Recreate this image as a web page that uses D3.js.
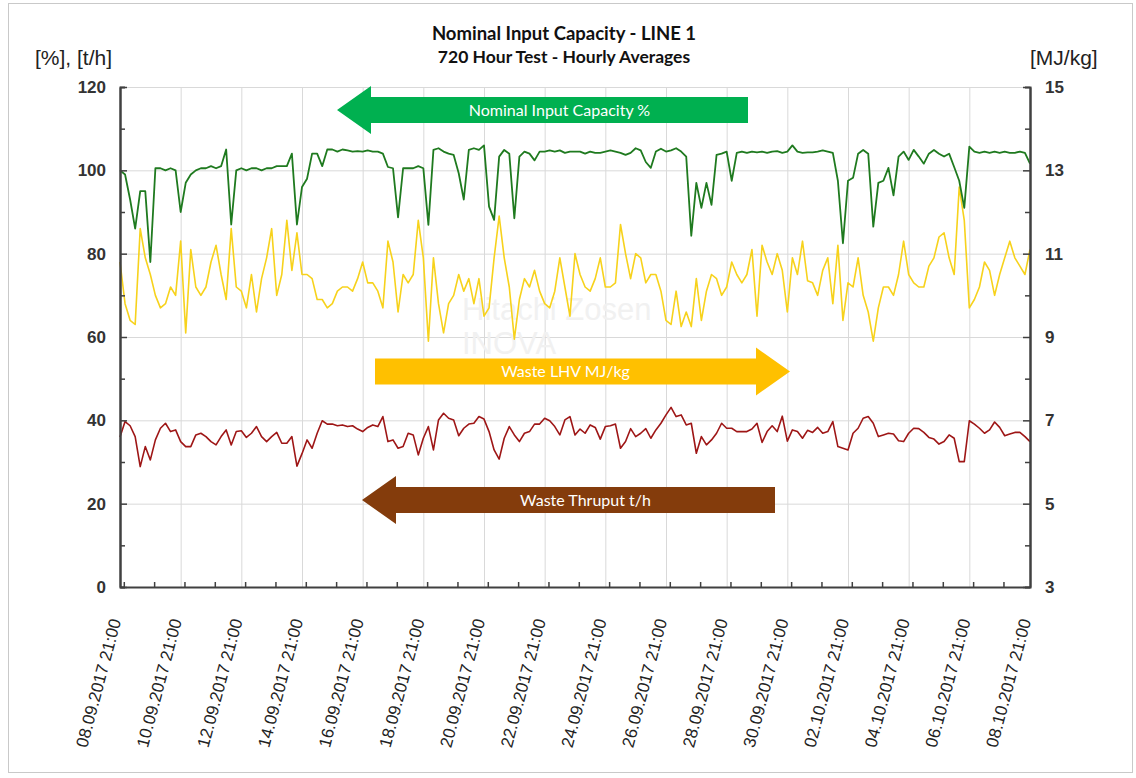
<!DOCTYPE html>
<html>
<head>
<meta charset="utf-8">
<script src="https://cdn.jsdelivr.net/npm/d3@7"></script>
<style>
  body { margin: 0; background: #fff; }
  svg { display: block; font-family: "Liberation Sans", Arial, sans-serif; }
</style>
</head>
<body>
<svg id="chart" width="1136" height="778"></svg>
<script>
// hourly test, sampled every 4 hours starting 08.09.2017 21:00
const startTime = Date.UTC(2017, 8, 8, 21);
const stepHours = 4;

// Nominal Input Capacity [%] (left axis)
const capacity = [
  100,99,93,86,95,95,78,100.5,100.5,100,100.5,100,90,97,99,100,100.5,100.5,101,100.5,
  101,105,87,100,100.5,100,100.5,100.5,100,100.5,100.5,101,101,101,104,87,96,98,104,104,
  101,105,105,104.5,105,104.8,104.5,104.6,104.5,104.8,104.5,104.5,104,100.8,100.5,88.7,100.5,100.5,100.5,101,
  100.5,86.9,104.9,105.3,104.5,104,103.7,99.3,93,104.9,105.3,104.9,106,91.3,88.1,103.3,104.9,104,88.5,103.3,
  104.5,104,102.4,104.5,104.5,104.8,104.5,104.8,104.2,104.5,104.5,104.5,104,104.5,104.2,104.2,104.5,104.8,104.5,104.2,
  103.7,104.2,105.3,104.8,102,100.6,104.5,105.2,104.5,104.8,105.3,104.5,103.3,84.3,97,91,97,91.7,103.7,104,
  104.5,97.5,104.2,104.5,104.2,104.5,104.3,104.5,104.2,104.5,104.6,104.2,104.5,106,104.5,104.2,104.3,104.3,104.5,104.8,
  104.5,104.2,97.5,82.5,97.5,98.2,104,104.9,104,86.5,97,97.5,100.6,94,103.3,104.5,102.5,104.9,103.3,101.6,
  104,104.9,104,103.3,104,100.8,97.5,91,105.7,104.5,104.2,104.5,104.2,104.5,104.2,104.5,104.2,104.2,104.5,104.2,
  101.6
];

// Waste LHV [MJ/kg] (right axis)
const lhv = [
  10.8,9.8,9.4,9.3,11.6,10.9,10.5,10.0,9.7,9.8,10.2,10.0,11.3,9.1,11.1,10.2,10.0,10.2,10.8,11.2,
  10.5,9.9,11.6,10.2,10.1,9.7,10.5,9.6,10.4,10.9,11.6,10.0,10.5,11.8,10.6,11.5,10.5,10.5,10.4,9.9,
  9.9,9.7,9.8,10.1,10.2,10.2,10.1,10.4,10.8,10.3,10.3,10.1,9.7,11.3,10.8,9.6,10.5,10.3,10.5,11.8,
  10.9,8.9,10.9,9.8,9.1,9.8,10.0,10.5,10.1,10.4,9.8,10.4,9.5,9.7,10.9,11.9,10.9,10.2,8.95,9.9,
  10.4,10.2,10.6,10.1,9.8,9.7,10.1,10.9,10.2,9.5,11.0,10.5,10.2,10.1,10.4,10.9,10.2,10.2,10.3,11.7,
  11.0,10.4,11.0,10.9,10.3,10.5,10.5,10.1,9.4,9.3,10.1,9.25,9.6,9.25,10.4,9.4,10.1,10.5,10.4,10.0,
  10.2,10.8,10.5,10.3,10.5,11.1,9.5,11.2,10.8,10.5,11.0,10.6,9.6,10.9,10.5,11.3,10.35,10.3,10.0,10.6,
  10.9,9.8,11.2,9.4,10.3,10.2,10.9,10.0,9.6,8.9,9.7,10.2,10.2,10.0,10.5,11.3,10.5,10.3,10.2,10.2,
  10.7,10.9,11.4,11.5,10.9,10.5,12.6,11.8,9.7,9.9,10.2,10.8,10.6,10.0,10.5,10.9,11.3,10.9,10.7,10.5,
  11.1
];

// Waste Thruput [t/h] (left axis)
const thruput = [
  36,39.7,38.7,36.1,28.9,33.7,30.5,35.3,38.1,39.3,37.3,37.7,34.9,33.7,33.7,36.5,36.9,36.1,34.9,34.1,
  36.1,37.7,34.1,37.3,37.5,35.9,36.9,38.5,36.1,34.9,36.1,37.1,34.5,34.5,36.1,29,32,35.3,33.3,36.9,
  39.9,39.1,39.1,38.7,38.9,38.5,38.7,37.9,37.3,38.3,38.9,38.5,40.9,34.9,35.3,33.3,33.7,36.9,36.5,31.7,
  35.7,38.5,32.9,40.1,41.7,40.5,40.1,36.3,38.1,39.1,39.3,40.9,40.3,37.3,32.9,30.7,35.7,38.5,36.5,34.9,
  36.9,37.3,39.1,39.1,40.5,39.9,38.5,36.5,40.1,40.9,36.5,37.9,36.9,38.9,38.3,35.5,38.5,38.7,39.1,33.3,
  34.9,38,36.1,36.9,38,35.7,37.7,39.3,41.3,43.1,40.9,41.3,38.9,39.3,32.1,36.1,34.1,35.3,36.9,39.3,
  38.1,38.1,37.3,37.3,37.3,37.9,39.3,34.7,37.3,38.7,37.3,41,35,37.7,37.3,35.7,37.6,37.1,38.3,36.9,
  37.3,39.7,33.7,33.3,32.9,36.9,38.1,40.5,40.9,39.3,36.1,36.5,36.9,36.7,35.1,34.9,36.9,38.1,38,37.1,
  35.9,35.5,34.3,34.9,36.5,35.7,30.1,30.1,39.9,39.1,38.1,36.9,37.7,39.6,38.3,36.3,36.7,37.1,37.1,36.1,
  34.9
];

const leftTicks = [0, 20, 40, 60, 80, 100, 120];
const rightTicks = [3, 5, 7, 9, 11, 13, 15];
const xTickLabels = [
  '08.09.2017 21:00', '10.09.2017 21:00', '12.09.2017 21:00', '14.09.2017 21:00',
  '16.09.2017 21:00', '18.09.2017 21:00', '20.09.2017 21:00', '22.09.2017 21:00',
  '24.09.2017 21:00', '26.09.2017 21:00', '28.09.2017 21:00', '30.09.2017 21:00',
  '02.10.2017 21:00', '04.10.2017 21:00', '06.10.2017 21:00', '08.10.2017 21:00'
];

const parseTick = d3.utcParse('%d.%m.%Y %H:%M');
const fmtTick = d3.utcFormat('%d.%m.%Y %H:%M');
const tickDates = xTickLabels.map(parseTick);
const timeAt = i => new Date(startTime + i * stepHours * 3600 * 1000);

const svg = d3.select('#chart');
const plot = { left: 120, right: 1030, top: 87, bottom: 587 };

const x = d3.scaleUtc()
  .domain([tickDates[0], tickDates[tickDates.length - 1]])
  .range([plot.left, plot.right]);
const yL = d3.scaleLinear().domain([0, 120]).range([plot.bottom, plot.top]);
const yR = d3.scaleLinear().domain([3, 15]).range([plot.bottom, plot.top]);

// outer frame
svg.append('rect')
  .attr('x', 8.5).attr('y', 3.5).attr('width', 1124).attr('height', 769)
  .attr('fill', 'none').attr('stroke', '#c9c9c9');

// horizontal grid
svg.append('g')
  .attr('transform', `translate(${plot.left},0)`)
  .call(d3.axisLeft(yL).tickValues(leftTicks).tickSize(-(plot.right - plot.left)).tickFormat(''))
  .call(g => g.select('.domain').remove())
  .call(g => g.selectAll('line').attr('stroke', '#d9d9d9'));

// vertical grid every 2 days
svg.append('g')
  .attr('transform', `translate(0,${plot.bottom})`)
  .call(d3.axisBottom(x).tickValues(tickDates).tickSize(-(plot.bottom - plot.top)).tickFormat(''))
  .call(g => g.select('.domain').remove())
  .call(g => g.selectAll('line').attr('stroke', '#d9d9d9'));

// watermark (very faint)
const wm = svg.append('g').attr('fill', '#f1f1f1').attr('font-size', 31);
wm.append('text').attr('x', 462).attr('y', 320).text('Hitachi Zosen');
wm.append('text').attr('x', 462).attr('y', 354).text('INOVA');

// series
const lineL = d3.line().x((d, i) => x(timeAt(i))).y(d => yL(d));
const lineR = d3.line().x((d, i) => x(timeAt(i))).y(d => yR(d));

svg.append('path').datum(lhv)
  .attr('fill', 'none').attr('stroke', '#f7d21c').attr('stroke-width', 1.6)
  .attr('stroke-linejoin', 'round').attr('d', lineR);
svg.append('path').datum(thruput)
  .attr('fill', 'none').attr('stroke', '#9e1616').attr('stroke-width', 1.6)
  .attr('stroke-linejoin', 'round').attr('d', lineL);
svg.append('path').datum(capacity)
  .attr('fill', 'none').attr('stroke', '#1f7a1f').attr('stroke-width', 1.8)
  .attr('stroke-linejoin', 'round').attr('d', lineL);

// axes
const axisColor = '#404040';
const styleAxis = g => {
  g.select('.domain').attr('stroke', axisColor).attr('stroke-width', 2);
  g.selectAll('line').attr('stroke', axisColor).attr('stroke-width', 1.5);
  g.selectAll('text').attr('fill', '#333').attr('font-size', 17).attr('font-weight', 'bold');
};

// left: minor then major
svg.append('g')
  .attr('transform', `translate(${plot.left},0)`)
  .call(d3.axisLeft(yL).tickValues(d3.range(10, 120, 20)).tickSize(-5).tickFormat(''))
  .call(styleAxis);
svg.append('g')
  .attr('transform', `translate(${plot.left},0)`)
  .call(d3.axisLeft(yL).tickValues(leftTicks).tickSize(-7).tickPadding(14).tickSizeOuter(0))
  .call(styleAxis);

// right
svg.append('g')
  .attr('transform', `translate(${plot.right},0)`)
  .call(d3.axisRight(yR).tickValues(d3.range(4, 15, 2)).tickSize(-5).tickFormat(''))
  .call(styleAxis);
svg.append('g')
  .attr('transform', `translate(${plot.right},0)`)
  .call(d3.axisRight(yR).tickValues(rightTicks).tickSize(-7).tickPadding(15).tickSizeOuter(0))
  .call(styleAxis);

// bottom: daily ticks, labels every 2 days
svg.append('g')
  .attr('transform', `translate(0,${plot.bottom})`)
  .call(d3.axisBottom(x).ticks(d3.utcDay.every(1)).tickSize(-5).tickFormat('').tickSizeOuter(0))
  .call(styleAxis);
svg.append('g')
  .attr('transform', `translate(0,${plot.bottom})`)
  .call(d3.axisBottom(x).tickValues(tickDates).tickSize(0).tickFormat(fmtTick).tickSizeOuter(0))
  .call(styleAxis)
  .call(g => g.select('.domain').remove())
  .call(g => g.selectAll('text')
    .attr('font-weight', 'normal')
    .attr('font-size', 17)
    .attr('fill', '#222')
    .attr('text-anchor', 'end')
    .attr('y', 0)
    .attr('dy', '0.35em')
    .attr('transform', 'translate(-5,32) rotate(-75)'));

// titles
svg.append('text').attr('x', 564).attr('y', 40).attr('text-anchor', 'middle')
  .attr('font-family', 'Lato, sans-serif').attr('font-weight', 'bold').attr('font-size', 18.5)
  .attr('fill', '#111').text('Nominal Input Capacity - LINE 1');
svg.append('text').attr('x', 564).attr('y', 63).attr('text-anchor', 'middle')
  .attr('font-family', 'Lato, sans-serif').attr('font-weight', 'bold').attr('font-size', 17.5)
  .attr('fill', '#111').text('720 Hour Test - Hourly Averages');
svg.append('text').attr('x', 35).attr('y', 65)
  .attr('font-size', 21).attr('fill', '#222').text('[%], [t/h]');
svg.append('text').attr('x', 1030).attr('y', 65)
  .attr('font-size', 21).attr('fill', '#222').text('[MJ/kg]');

// legend arrows
function arrow(dir, tipX, tailX, cy, bodyH, headH, headL) {
  const s = dir === 'left' ? 1 : -1;
  const hb = tipX + s * headL;
  return d3.line()([
    [tipX, cy], [hb, cy - headH / 2], [hb, cy - bodyH / 2], [tailX, cy - bodyH / 2],
    [tailX, cy + bodyH / 2], [hb, cy + bodyH / 2], [hb, cy + headH / 2]
  ]) + 'Z';
}
const legend = [
  { label: 'Nominal Input Capacity %', dir: 'left', tip: 337, tail: 748, cy: 110, color: '#00b050' },
  { label: 'Waste LHV MJ/kg', dir: 'right', tip: 790, tail: 375, cy: 371.5, color: '#ffc000' },
  { label: 'Waste Thruput t/h', dir: 'left', tip: 362, tail: 775, cy: 500, color: '#843c0c' }
];
legend.forEach(d => {
  svg.append('path').attr('d', arrow(d.dir, d.tip, d.tail, d.cy, 26, 48, 34)).attr('fill', d.color);
  const mid = d.dir === 'left' ? (d.tip + 34 + d.tail) / 2 : (d.tail + d.tip - 34) / 2;
  svg.append('text').attr('x', mid).attr('y', d.cy + 5.5).attr('text-anchor', 'middle')
    .attr('font-family', 'Lato, sans-serif').attr('font-size', 16).attr('fill', '#fff')
    .text(d.label);
});
</script>
</body>
</html>
